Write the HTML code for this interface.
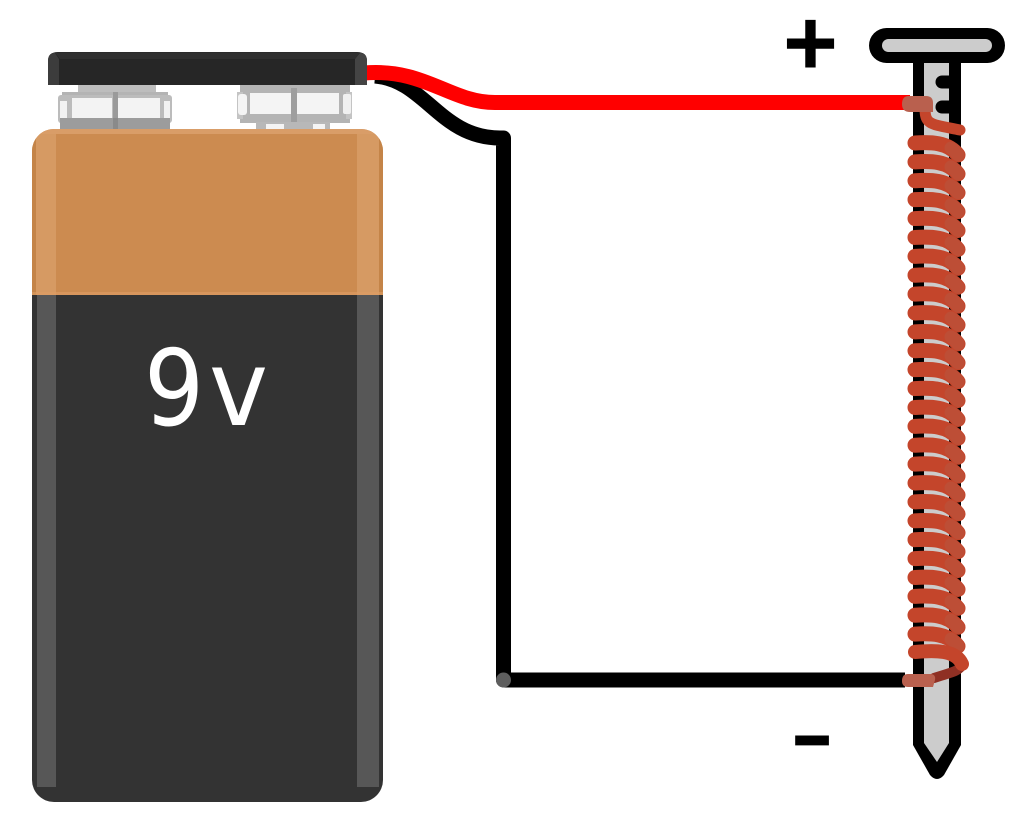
<!DOCTYPE html>
<html><head><meta charset="utf-8"><style>html,body{margin:0;padding:0;background:#fff}svg{display:block}</style></head>
<body>
<svg xmlns="http://www.w3.org/2000/svg" width="1024" height="832" viewBox="0 0 1024 832">
<defs>
<clipPath id="bat"><rect x="32" y="129" width="351" height="673" rx="22" ry="22"/></clipPath>
<g id="coil">
<path d="M915 143 C930 142 948 142 958 155" fill="none" stroke="#c4452b" stroke-width="15" stroke-linecap="round"/>
<path d="M951 148 C954 150 956 152 958 155" fill="none" stroke="#bd4e36" stroke-width="13" stroke-linecap="round"/>
</g>
</defs>
<rect width="1024" height="832" fill="#fff"/>

<!-- left terminal -->
<rect x="78" y="85" width="78" height="10" fill="#bdbdbd"/>
<rect x="62" y="92" width="106" height="37" fill="#b4b4b4"/>
<rect x="58" y="95" width="114" height="28" rx="3" fill="#bcbcbc"/>
<rect x="60" y="101" width="7" height="17" fill="#f2f2f2"/>
<rect x="164" y="101" width="6" height="17" fill="#f2f2f2"/>
<rect x="72" y="98" width="40" height="20" fill="#f3f3f3"/>
<rect x="118" y="98" width="42" height="20" fill="#f3f3f3"/>
<rect x="113" y="92" width="5" height="37" fill="#9a9a9a"/>
<rect x="60" y="118" width="110" height="11" fill="#9c9c9c"/>
<rect x="113" y="118" width="5" height="11" fill="#8a8a8a"/>
<!-- right terminal -->
<rect x="240" y="85" width="110" height="38" fill="#b4b4b4"/>
<rect x="237" y="92" width="6" height="27" fill="#c4c4c4"/>
<rect x="346" y="92" width="6" height="27" fill="#c4c4c4"/>
<rect x="238" y="94" width="9" height="21" rx="3" fill="#f4f4f4"/>
<rect x="343" y="94" width="8" height="20" rx="2" fill="#f0f0f0"/>
<rect x="250" y="93" width="41" height="21" fill="#f4f4f4"/>
<rect x="297" y="93" width="42" height="21" fill="#f4f4f4"/>
<rect x="291" y="88" width="6" height="36" fill="#9e9e9e"/>
<rect x="256" y="122" width="74" height="7" fill="#b8b8b8"/>
<rect x="266" y="124" width="18" height="5" fill="#f4f4f4"/>
<rect x="313" y="124" width="12" height="5" fill="#f4f4f4"/>

<!-- battery -->
<g clip-path="url(#bat)">
<rect x="32" y="129" width="351" height="166" fill="#cc8b50"/>
<rect x="32" y="129" width="351" height="5" fill="#d99d68"/>
<rect x="36" y="134" width="20" height="161" fill="#d69a63"/>
<rect x="357" y="134" width="22" height="161" fill="#d69a63"/>
<rect x="32" y="129" width="4" height="166" fill="#c48448"/>
<rect x="379" y="129" width="4" height="166" fill="#c48448"/>
<rect x="32" y="295" width="351" height="507" fill="#333333"/>
<rect x="37" y="295" width="19" height="492" fill="#575757"/>
<rect x="357" y="295" width="22" height="492" fill="#575757"/>
</g>
<rect x="32" y="292" width="351" height="3" fill="#dd9e66" opacity=".6"/>
<text transform="translate(144 425) scale(.9 1)" font-family="'DejaVu Sans',sans-serif" font-size="105" fill="#fff">9</text>
<text transform="translate(209 425) scale(.95 1)" font-family="'DejaVu Sans',sans-serif" font-size="105" fill="#fff">v</text>

<!-- black wire -->
<path d="M375 76 C425 80 440 138 500 138 L503.500 138 L503.500 680 L905 680" fill="none" stroke="#000" stroke-width="15" stroke-linejoin="round"/>
<circle cx="503.500" cy="680" r="7.500" fill="#5e5e5e"/>
<!-- red wire -->
<path d="M364 73 C425 68 450 102.500 495 102.500 L910 102.500" fill="none" stroke="#f00" stroke-width="15"/>

<!-- battery cap -->
<path d="M48 85 V61 Q48 52 58 52 H357 Q367 52 367 61 V85 Z" fill="#262626"/>
<path d="M48 85 V61 Q48 53 55 53 L59 59 V85 Z" fill="#3c3c3c"/>
<path d="M367 85 V61 Q367 53 360 53 L355 59 V85 Z" fill="#444"/>
<path d="M55 52.500 H360 L355 59 H60 Z" fill="#303030"/>

<!-- nail -->
<path d="M913 60 V745 L930 775 Q937 783 944 775 L961 745 V60 Z" fill="#000"/>
<path d="M924 60 V743 L937 762 L949 743 V60 Z" fill="#ccc"/>
<circle cx="942" cy="82" r="6.500" fill="#000"/><rect x="942" y="75.500" width="10" height="13" fill="#000"/>
<circle cx="942" cy="107" r="6.500" fill="#000"/><rect x="942" y="100.500" width="10" height="13" fill="#000"/>
<rect x="869" y="28" width="136" height="35" rx="17.500" fill="#000"/>
<rect x="882" y="39" width="110" height="13" rx="6.500" fill="#ccc"/>

<!-- coil -->
<path d="M925 108 C925 125 930 124 960 130" fill="none" stroke="#c4452b" stroke-width="11" stroke-linecap="round"/>
<use href="#coil"/><use href="#coil" y="18.890"/><use href="#coil" y="37.780"/><use href="#coil" y="56.670"/>
<use href="#coil" y="75.560"/><use href="#coil" y="94.450"/><use href="#coil" y="113.340"/><use href="#coil" y="132.230"/>
<use href="#coil" y="151.120"/><use href="#coil" y="170.010"/><use href="#coil" y="188.900"/><use href="#coil" y="207.790"/>
<use href="#coil" y="226.680"/><use href="#coil" y="245.570"/><use href="#coil" y="264.460"/><use href="#coil" y="283.350"/>
<use href="#coil" y="302.240"/><use href="#coil" y="321.130"/><use href="#coil" y="340.020"/><use href="#coil" y="358.910"/>
<use href="#coil" y="377.800"/><use href="#coil" y="396.690"/><use href="#coil" y="415.580"/><use href="#coil" y="434.470"/>
<use href="#coil" y="453.360"/><use href="#coil" y="472.250"/><use href="#coil" y="491.140"/>
<path d="M962 664 C960 672 948 673 934 678" fill="none" stroke="#8f3024" stroke-width="10" stroke-linecap="round"/>
<path d="M915 652 C935 650 956 650 962 664" fill="none" stroke="#c4452b" stroke-width="14" stroke-linecap="round"/>
<!-- terminals -->
<path d="M909 96 H926 Q933 96 933 103 V112 H910 Q902 112 902 104 Q902 96 909 96 Z" fill="#b9604e"/>
<path d="M908 674 H930 Q936 674 935 680 L933 687 H908 Q902 687 902 681 Q902 674 908 674 Z" fill="#b9604e"/>

<!-- labels -->
<text x="783" y="75" font-family="'Liberation Sans',sans-serif" font-weight="700" font-size="94" fill="#000">+</text>
<text transform="translate(790 762) scale(1.6 1)" font-family="'Liberation Sans',sans-serif" font-weight="700" font-size="83" fill="#000">-</text>
</svg>
</body></html>
